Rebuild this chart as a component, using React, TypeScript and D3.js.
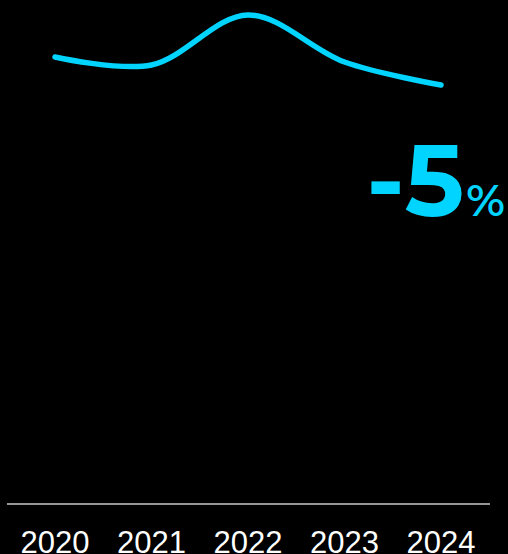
import React from "react";
import * as d3 from "d3";

const years = ["2020", "2021", "2022", "2023", "2024"];
const values = [447, 439, 489, 442, 419];
const changeLabel = "-5";
const changeUnit = "%";

const W = 508;
const H = 554;

export default function App() {
  const x = d3.scalePoint<string>().domain(years).range([55, 441]);
  const y = d3.scaleLinear().domain([0, 500]).range([504, 4]);
  const line = d3
    .line<number>()
    .x((_, i) => x(years[i]) as number)
    .y((d) => y(d))
    .curve(d3.curveCatmullRom);
  return (
    <svg
      width={W}
      height={H}
      style={{ position: "fixed", left: 0, top: 0, background: "#000" }}
    >
      <rect width={W} height={H} fill="#000" />
      <path
        d={line(values) || ""}
        fill="none"
        stroke="#00d4ff"
        strokeWidth={5.5}
        strokeLinecap="round"
        strokeLinejoin="round"
      />
      <line x1={7} x2={490} y1={y(0)} y2={y(0)} stroke="#c8c8c8" strokeWidth={1.5} />
      {years.map((yr) => (
        <text
          key={yr}
          x={x(yr)}
          y={553}
          textAnchor="middle"
          fill="#ffffff"
          fontFamily="'Liberation Sans', Arial, sans-serif"
          fontSize={31}
        >
          {yr}
        </text>
      ))}
      <text
        x={505}
        y={216}
        textAnchor="end"
        fill="#00d4ff"
        fontFamily="Montserrat, 'Open Sans', sans-serif"
        fontWeight={700}
      >
        <tspan fontSize={100}>{changeLabel}</tspan>
        <tspan fontSize={45} fontWeight={600} dx={2}>{changeUnit}</tspan>
      </text>
    </svg>
  );
}
